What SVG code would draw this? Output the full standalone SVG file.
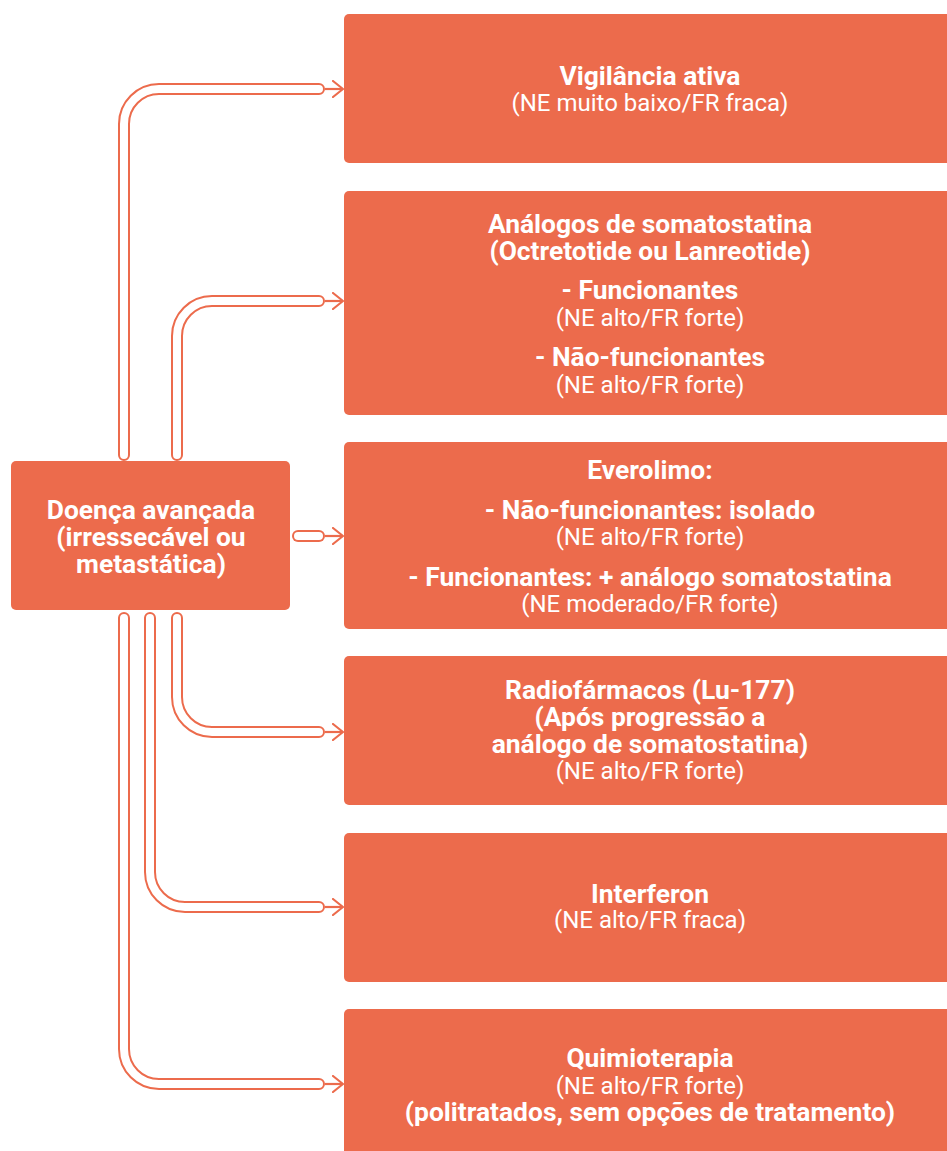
<svg xmlns="http://www.w3.org/2000/svg" width="947" height="1151" viewBox="0 0 947 1151">
<defs>
<style>
.box{fill:#EC6B4C;}
.t{font-family:Roboto,"Liberation Sans",sans-serif;fill:#fff;text-anchor:middle;font-size:26.4px;}
.b{font-weight:bold;}
.r{font-weight:normal;font-size:24px;}
.po{fill:none;stroke:#EC6B4C;stroke-width:12;stroke-linecap:round;stroke-linejoin:round;}
.pi{fill:none;stroke:#fff;stroke-width:8;stroke-linecap:round;stroke-linejoin:round;}
.ar{fill:none;stroke:#EC6B4C;stroke-width:2.2;marker-end:url(#chev);}
</style>
<marker id="chev" viewBox="0 0 12 18" refX="11" refY="9" markerWidth="12" markerHeight="18" markerUnits="userSpaceOnUse" orient="auto">
<path d="M1,1 L11,9 L1,17" fill="none" stroke="#EC6B4C" stroke-width="2.2" stroke-linecap="round" stroke-linejoin="round"/>
</marker>
</defs>
<rect width="947" height="1151" fill="#fff"/>
<g id="connectors">
<path class="po" d="M124,455 V124 A35,35 0 0 1 159,89 H319"/>
<path class="pi" d="M124,455 V124 A35,35 0 0 1 159,89 H319"/>
<path class="ar" d="M325,89 H343"/>
<path class="po" d="M177,455 V336 A35,35 0 0 1 212,301 H319"/>
<path class="pi" d="M177,455 V336 A35,35 0 0 1 212,301 H319"/>
<path class="ar" d="M325,301 H343"/>
<path class="po" d="M298,536 H319"/>
<path class="pi" d="M298,536 H319"/>
<path class="ar" d="M325,536 H343"/>
<path class="po" d="M177,618 V697 A35,35 0 0 0 212,732 H319"/>
<path class="pi" d="M177,618 V697 A35,35 0 0 0 212,732 H319"/>
<path class="ar" d="M325,732 H343"/>
<path class="po" d="M150,618 V872 A35,35 0 0 0 185,907 H319"/>
<path class="pi" d="M150,618 V872 A35,35 0 0 0 185,907 H319"/>
<path class="ar" d="M325,907 H343"/>
<path class="po" d="M124,618 V1049 A35,35 0 0 0 159,1084 H319"/>
<path class="pi" d="M124,618 V1049 A35,35 0 0 0 159,1084 H319"/>
<path class="ar" d="M325,1084 H343"/>
</g>
<g id="n0">
<rect class="box" x="11" y="461" width="279" height="149" rx="5"/>
<text class="t b" x="151" y="519">Doença avançada</text>
<text class="t b" x="151" y="546">(irressecável ou</text>
<text class="t b" x="151" y="573">metastática)</text>
</g>
<g id="n1">
<rect class="box" x="344" y="14" width="615" height="149" rx="5"/>
<text class="t b" x="650" y="85">Vigilância ativa</text>
<text class="t r" x="650" y="111">(NE muito baixo/FR fraca)</text>
</g>
<g id="n2">
<rect class="box" x="344" y="191" width="615" height="224" rx="5"/>
<text class="t b" x="650" y="233">Análogos de somatostatina</text>
<text class="t b" x="650" y="260">(Octretotide ou Lanreotide)</text>
<text class="t b" x="650" y="299">- Funcionantes</text>
<text class="t r" x="650" y="326">(NE alto/FR forte)</text>
<text class="t b" x="650" y="366">- Não-funcionantes</text>
<text class="t r" x="650" y="393">(NE alto/FR forte)</text>
</g>
<g id="n3">
<rect class="box" x="344" y="442" width="615" height="187" rx="5"/>
<text class="t b" x="650" y="479">Everolimo:</text>
<text class="t b" x="650" y="519">- Não-funcionantes: isolado</text>
<text class="t r" x="650" y="545">(NE alto/FR forte)</text>
<text class="t b" x="650" y="586">- Funcionantes: + análogo somatostatina</text>
<text class="t r" x="650" y="612">(NE moderado/FR forte)</text>
</g>
<g id="n4">
<rect class="box" x="344" y="656" width="615" height="149" rx="5"/>
<text class="t b" x="650" y="699">Radiofármacos (Lu-177)</text>
<text class="t b" x="650" y="726">(Após progressão a</text>
<text class="t b" x="650" y="753">análogo de somatostatina)</text>
<text class="t r" x="650" y="779">(NE alto/FR forte)</text>
</g>
<g id="n5">
<rect class="box" x="344" y="833" width="615" height="149" rx="5"/>
<text class="t b" x="650" y="903">Interferon</text>
<text class="t r" x="650" y="928">(NE alto/FR fraca)</text>
</g>
<g id="n6">
<rect class="box" x="344" y="1009" width="615" height="160" rx="5"/>
<text class="t b" x="650" y="1067">Quimioterapia</text>
<text class="t r" x="650" y="1094">(NE alto/FR forte)</text>
<text class="t b" x="650" y="1121">(politratados, sem opções de tratamento)</text>
</g>
</svg>
